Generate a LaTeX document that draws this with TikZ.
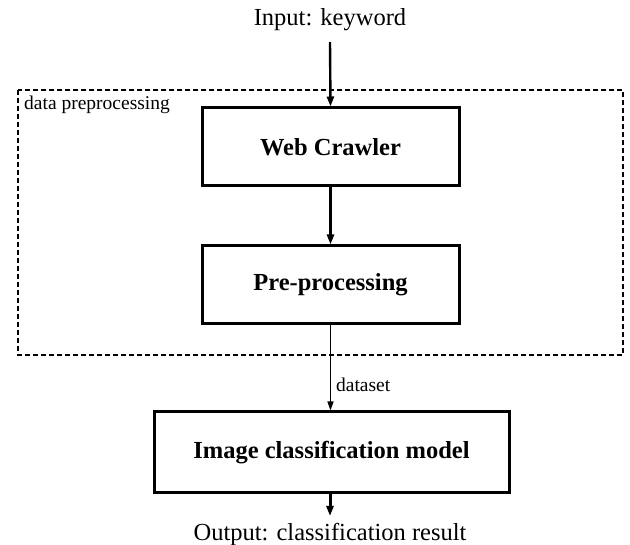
\documentclass[tikz,border=0pt]{standalone}
\usepackage{fontspec}
\setmainfont{Liberation Serif}
\usetikzlibrary{arrows.meta}
\begin{document}
\begin{tikzpicture}[x=1pt,y=-1pt,
  box/.style={draw,line width=3pt,minimum width=257pt,minimum height=78pt,inner sep=0pt,font=\fontsize{24.5}{28}\selectfont\bfseries},
  txt/.style={inner sep=0pt,font=\fontsize{24.5}{28}\selectfont},
  small/.style={inner sep=0pt,font=\fontsize{19.5}{22}\selectfont},
  arr/.style={-{Triangle[length=10pt,width=7pt]},line width=2.4pt},
  tarr/.style={-{Triangle[length=9pt,width=6pt]},line width=1.3pt}]
\useasboundingbox (0,0) rectangle (630,545);
\draw[line width=1.5pt,dash pattern=on 5pt off 3pt] (18,90) rectangle (623,355);
\node[small,anchor=north west] (dp) at (24,96) {data preprocessing};
\node[txt] (in) at (330,20) {Input: keyword};
\node[box] (wc) at (330.5,147) {Web Crawler};
\node[box] (pp) at (330.5,285) {Pre-processing};
\node[box,minimum width=355pt,minimum height=81pt] (ic) at (331.5,452.5) {Image classification model};
\node[txt] (out) at (330,534) {Output: classification result};
\coordinate (inb) at (330,42);
\coordinate (outt) at (330,516);
\draw[arr] (inb) -- (wc.north);
\draw[arr] (wc.south) -- (pp.north);
\draw[tarr] (pp.south) -- node[small,right=5pt,pos=0.7] (ds) {dataset} (pp.south |- ic.north);
\draw[arr,line width=3pt] (ic.south -| inb) -- (outt);
\end{tikzpicture}
\end{document}
